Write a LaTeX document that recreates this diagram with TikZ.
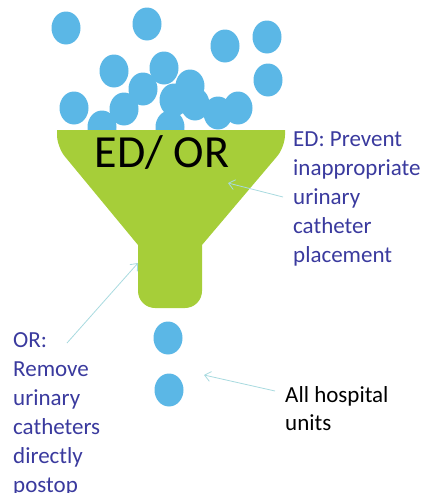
\documentclass[tikz,border=0pt]{standalone}
\usepackage{fontspec}
\setmainfont{Carlito}
\usepackage{tikz}
\usetikzlibrary{arrows.meta,shapes.geometric}
\definecolor{funnelgreen}{HTML}{A6CE39}
\definecolor{drop}{HTML}{5BB7E6}
\definecolor{note}{HTML}{3A3A9E}
\definecolor{pointer}{HTML}{A8DADF}
\tikzset{
  dropfill/.style={fill=drop},
  dropnode/.style={ellipse, fill=drop, minimum width=29pt, minimum height=33pt, inner sep=0pt},
  funnel/.style={fill=funnelgreen},
  notetext/.style={text=note, align=left, inner sep=0pt, font=\fontsize{23}{29}\selectfont},
  plaintext/.style={text=black, align=left, inner sep=0pt, font=\fontsize{23}{28}\selectfont},
  arr/.style={draw=pointer, line width=0.8pt, -{Straight Barb[length=6pt,width=10pt]}},
}

\begin{document}
\begin{tikzpicture}[x=1pt,y=-1pt]
  \useasboundingbox (0,0) rectangle (428,493);

  % drops falling into the funnel
  \foreach \px/\py in {66/28, 147/24, 225/46, 267/37, 114/71, 164/68, 268/80,
                       74/108, 143/89, 124/109, 190/86, 174/100, 195/104,
                       218/113, 238/108, 102/127, 170/127}
    \fill[dropfill] (\px,\py) ellipse (14.5 and 16.5);

  % funnel
  \fill[funnel] (57,130) -- (285,130) [rounded corners=12pt] -- (285,147)
    [sharp corners] -- (202,245) [rounded corners=17pt] -- (202,308) -- (138,308)
    [sharp corners] -- (138,245) [rounded corners=12pt] -- (57,147)
    [sharp corners] -- cycle;
  \node (funnel) at (162,153) {\fontsize{46}{50}\selectfont ED/ OR};

  % drops leaving the funnel
  \node[dropnode] (dropA) at (168,338) {};
  \node[dropnode] (dropB) at (169,390) {};

  % labels
  \node[notetext, anchor=north west] (edtxt) at (293,132)
    {ED: Prevent\\inappropriate\\urinary\\catheter\\placement};
  \node[notetext, anchor=north west] (ortxt) at (13,332)
    {OR:\\Remove\\urinary\\catheters\\directly\\postop};
  \node[plaintext, anchor=north west] (alltxt) at (285,386)
    {All hospital\\units};

  \coordinate (edtail) at (283,197);
  \coordinate (edtip) at (228,183);
  \coordinate (ortail) at (67,343);
  \coordinate (ortip) at (138,263);
  \coordinate (alltail) at (275,391);
  \coordinate (alltip) at (204,375);

  \draw[arr] (edtail) -- (edtip);
  \draw[arr] (ortail) -- (ortip);
  \draw[arr] (alltail) -- (alltip);
\end{tikzpicture}
\end{document}
